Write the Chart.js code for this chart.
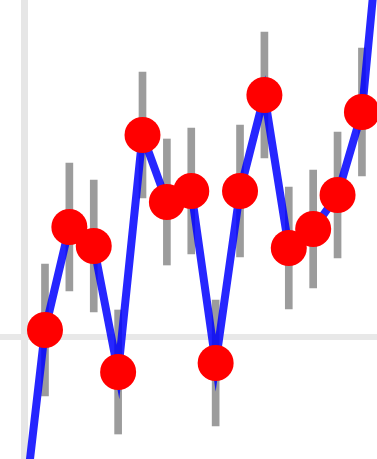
<!DOCTYPE html>
<html>
<head>
<meta charset="utf-8">
<script src="https://cdn.jsdelivr.net/npm/chart.js@4/dist/chart.umd.min.js"></script>
<style>
  html, body { margin: 0; padding: 0; background: #ffffff; }
  #wrap { width: 377px; height: 459px; }
</style>
</head>
<body>
<div id="wrap"><canvas id="c" width="377" height="459"></canvas></div>
<script>
// Sample positions along the x axis
const samples = [0, 1, 2, 3, 4, 5, 6, 7, 8, 9, 10, 11, 12, 13, 14, 15];
// Mean value at each sample
const means = [-2.03, 0.07, 1.10, 0.91, -0.35, 2.02, 1.35, 1.46, -0.26, 1.46, 2.42, 0.89, 1.08, 1.42, 2.25, 4.81];
// Half-length of each error bar
const errors = [0.63, 0.66, 0.64, 0.66, 0.62, 0.63, 0.63, 0.63, 0.63, 0.66, 0.63, 0.61, 0.59, 0.63, 0.64, 0.63];

// Visible window and reference lines
const xRange = [-0.845, 14.618];
const yRange = [-1.22, 3.37];
const axisX = 0.14;
const baselineY = 0;

const linePoints = samples.map((x, i) => ({ x: x, y: means[i] }));
const errorBars = samples.map((x, i) => ({ x: x, y: [means[i] - errors[i], means[i] + errors[i]] }));

new Chart(document.getElementById('c'), {
  data: {
    datasets: [
      {
        type: 'line',
        data: linePoints,
        order: 0,
        borderColor: 'rgba(0, 0, 255, 0.85)',
        borderWidth: 8,
        tension: 0,
        pointRadius: 18,
        pointHoverRadius: 18,
        pointBackgroundColor: '#ff0000',
        pointBorderWidth: 0,
        pointBorderColor: '#ff0000'
      },
      {
        type: 'bar',
        data: errorBars,
        order: 1,
        backgroundColor: '#9c9c9c',
        borderWidth: 0,
        barThickness: 7,
        borderSkipped: false
      }
    ]
  },
  options: {
    responsive: false,
    animation: false,
    events: [],
    layout: { padding: 0, autoPadding: false },
    plugins: { legend: { display: false }, tooltip: { enabled: false } },
    scales: {
      x: {
        type: 'linear',
        offset: false,
        min: xRange[0],
        max: xRange[1],
        ticks: { display: false },
        border: { display: false },
        afterBuildTicks: axis => { axis.ticks = [{ value: axisX }]; },
        grid: { offset: false, drawTicks: false, color: '#e6e6e6', lineWidth: 7 }
      },
      y: {
        type: 'linear',
        offset: false,
        min: yRange[0],
        max: yRange[1],
        ticks: { display: false },
        border: { display: false },
        afterBuildTicks: axis => { axis.ticks = [{ value: baselineY }]; },
        grid: { offset: false, drawTicks: false, color: '#e8e8e8', lineWidth: 6 }
      }
    }
  }
});
</script>
</body>
</html>
